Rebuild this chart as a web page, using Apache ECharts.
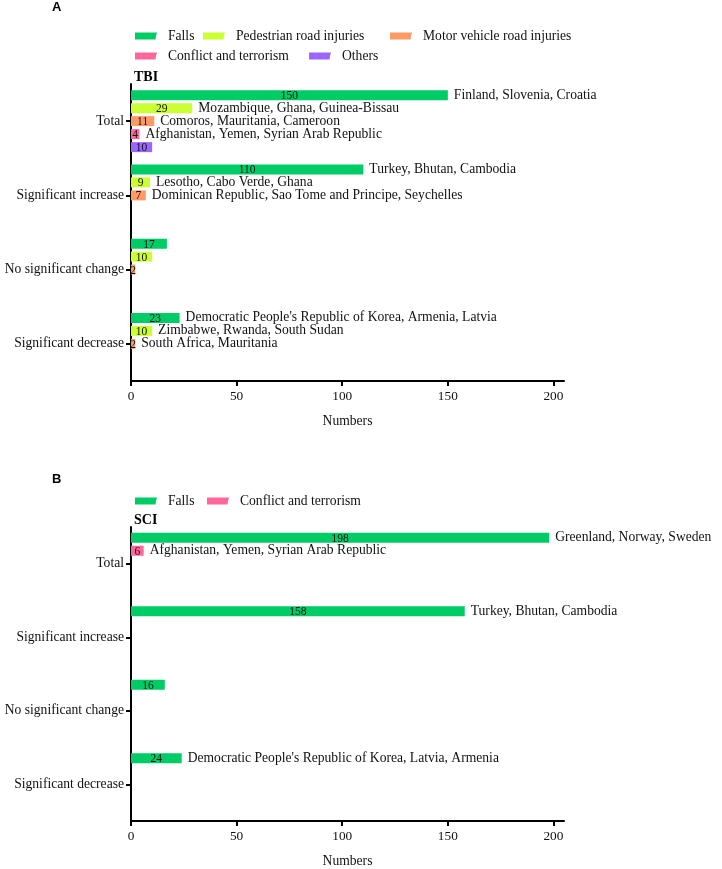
<!DOCTYPE html>
<html>
<head>
<meta charset="utf-8">
<script src="https://cdn.jsdelivr.net/npm/echarts@6/dist/echarts.min.js"></script>
<style>
html,body{margin:0;padding:0;background:#fff;}
#chart{width:722px;height:869px;}
</style>
</head>
<body>
<div id="chart"></div>
<script>
// ---------- data ----------
const categories = ['Total', 'Significant increase', 'No significant change', 'Significant decrease'];
const xTicks = [0, 50, 100, 150, 200];

// Panel A: TBI
const tbiFalls = [150, 110, 17, 23];
const tbiPedestrian = [29, 9, 10, 10];
const tbiMotor = [11, 7, 2, 2];
const tbiConflict = [4, null, null, null];
const tbiOthers = [10, null, null, null];

const tbiFallsCountries = ['Finland, Slovenia, Croatia', 'Turkey, Bhutan, Cambodia', '', "Democratic People's Republic of Korea, Armenia, Latvia"];
const tbiPedestrianCountries = ['Mozambique, Ghana, Guinea-Bissau', 'Lesotho, Cabo Verde, Ghana', '', 'Zimbabwe, Rwanda, South Sudan'];
const tbiMotorCountries = ['Comoros, Mauritania, Cameroon', 'Dominican Republic, Sao Tome and Principe, Seychelles', '', 'South Africa, Mauritania'];
const tbiConflictCountries = ['Afghanistan, Yemen, Syrian Arab Republic', '', '', ''];
const tbiOthersCountries = ['', '', '', ''];

// Panel B: SCI
const sciFalls = [198, 158, 16, 24];
const sciConflict = [6, null, null, null];
const sciFallsCountries = ['Greenland, Norway, Sweden', 'Turkey, Bhutan, Cambodia', '', "Democratic People's Republic of Korea, Latvia, Armenia"];
const sciConflictCountries = ['Afghanistan, Yemen, Syrian Arab Republic', '', '', ''];

const seriesNames = ['Falls', 'Pedestrian road injuries', 'Motor vehicle road injuries', 'Conflict and terrorism', 'Others'];
const colors = {
  'Falls': '#00cc66',
  'Pedestrian road injuries': '#ccff33',
  'Motor vehicle road injuries': '#ff9966',
  'Conflict and terrorism': '#ff6699',
  'Others': '#9966ff'
};

// ---------- builders ----------
const SERIF = 'Liberation Serif';
const TXT = '#111';
const FS = 13.6;

function makeSeries(name, values, countries, axisIdx, stackId) {
  const main = {
    type: 'bar',
    name: name,
    xAxisIndex: axisIdx,
    yAxisIndex: axisIdx,
    stack: stackId,
    data: values,
    barWidth: 10,
    barGap: '30%',
    itemStyle: { color: colors[name] },
    label: {
      show: true,
      position: 'inside',
      offset: [0, 1],
      formatter: '{c}',
      fontFamily: SERIF,
      fontSize: 11.5,
      color: TXT
    },
    emphasis: { disabled: true }
  };
  const companion = {
    type: 'bar',
    name: name + ' (countries)',
    xAxisIndex: axisIdx,
    yAxisIndex: axisIdx,
    stack: stackId,
    data: values.map((v, i) => (v != null && countries[i]) ? 0 : null),
    barWidth: 10,
    barGap: '30%',
    itemStyle: { color: 'rgba(0,0,0,0)' },
    silent: true,
    label: {
      show: true,
      position: 'right',
      distance: 6,
      formatter: p => countries[p.dataIndex],
      fontFamily: SERIF,
      fontSize: FS,
      color: TXT
    },
    emphasis: { disabled: true }
  };
  return [main, companion];
}

function placeholder(axisIdx, id) {
  return {
    type: 'bar', name: '_slot' + id, xAxisIndex: axisIdx, yAxisIndex: axisIdx,
    stack: '_slot' + id, data: [], barWidth: 10, barGap: '30%'
  };
}

let series = [];
series = series.concat(makeSeries('Falls', tbiFalls, tbiFallsCountries, 0, 'a1'));
series = series.concat(makeSeries('Pedestrian road injuries', tbiPedestrian, tbiPedestrianCountries, 0, 'a2'));
series = series.concat(makeSeries('Motor vehicle road injuries', tbiMotor, tbiMotorCountries, 0, 'a3'));
series = series.concat(makeSeries('Conflict and terrorism', tbiConflict, tbiConflictCountries, 0, 'a4'));
series = series.concat(makeSeries('Others', tbiOthers, tbiOthersCountries, 0, 'a5'));
series = series.concat(makeSeries('Falls', sciFalls, sciFallsCountries, 1, 'b1'));
series = series.concat(makeSeries('Conflict and terrorism', sciConflict, sciConflictCountries, 1, 'b2'));
series.push(placeholder(1, 3), placeholder(1, 4), placeholder(1, 5));

const iconPath = 'path://M0,0L22,0L21,3.5L20.5,7L0,7Z';
function legendItem(name, left, top) {
  return {
    data: [name],
    left: left,
    top: top,
    orient: 'horizontal',
    itemWidth: 22,
    itemHeight: 7,
    icon: iconPath,
    selectedMode: false,
    padding: 0,
    textStyle: { fontFamily: SERIF, fontSize: FS, color: TXT, padding: [0, 0, 0, 6] }
  };
}

function yAxisCfg(idx) {
  return {
    type: 'category',
    gridIndex: idx,
    data: categories,
    inverse: true,
    axisLine: { show: true, lineStyle: { color: '#000', width: 2 } },
    axisTick: { show: true, alignWithLabel: true, length: 5, lineStyle: { color: '#000', width: 2 } },
    axisLabel: { fontFamily: SERIF, fontSize: FS, color: TXT, margin: 7 },
    splitLine: { show: false }
  };
}

function xAxisCfg(idx) {
  return {
    type: 'value',
    gridIndex: idx,
    min: 0,
    max: 205,
    axisLine: { show: true, onZero: false, lineStyle: { color: '#000', width: 2 } },
    axisTick: { show: true, length: 5, customValues: xTicks, lineStyle: { color: '#000', width: 2 } },
    axisLabel: { customValues: xTicks, fontFamily: SERIF, fontSize: 13.3, color: TXT, margin: 9 },
    splitLine: { show: false },
    name: 'Numbers',
    nameLocation: 'middle',
    nameGap: 33,
    nameTextStyle: { fontFamily: SERIF, fontSize: FS, color: TXT }
  };
}

const option = {
  animation: false,
  backgroundColor: '#fff',
  title: [
    { text: 'A', left: 52, top: 1, padding: 0, textStyle: { fontFamily: 'Liberation Sans', fontWeight: 'bold', fontSize: 13, color: '#000' } },
    { text: 'TBI', left: 134, top: 70, padding: 0, textStyle: { fontFamily: SERIF, fontWeight: 'bold', fontSize: 14, color: '#000' } },
    { text: 'B', left: 52, top: 473, padding: 0, textStyle: { fontFamily: 'Liberation Sans', fontWeight: 'bold', fontSize: 13, color: '#000' } },
    { text: 'SCI', left: 134, top: 513, padding: 0, textStyle: { fontFamily: SERIF, fontWeight: 'bold', fontSize: 14, color: '#000' } }
  ],
  legend: [
    legendItem('Falls', 135, 29),
    legendItem('Pedestrian road injuries', 203, 29),
    legendItem('Motor vehicle road injuries', 390, 29),
    legendItem('Conflict and terrorism', 135, 49),
    legendItem('Others', 309, 49),
    legendItem('Falls', 135, 494),
    legendItem('Conflict and terrorism', 207, 494)
  ],
  grid: [
    { left: 131, right: 158, top: 84, height: 297, containLabel: false },
    { left: 131, right: 158, top: 527, height: 296, containLabel: false }
  ],
  xAxis: [xAxisCfg(0), xAxisCfg(1)],
  yAxis: [yAxisCfg(0), yAxisCfg(1)],
  series: series
};

const chart = echarts.init(document.getElementById('chart'), null, { renderer: 'canvas' });
chart.setOption(option);
</script>
</body>
</html>
